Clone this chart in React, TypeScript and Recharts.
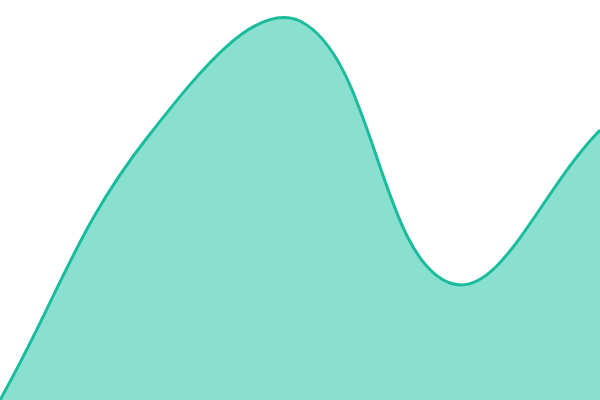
import React from "react";
import { AreaChart, Area, XAxis, YAxis } from "recharts";

const W = 600;
const H = 400;

// five evenly spaced points (y domain 0..100)
const labels = ["1", "2", "3", "4", "5"];
const values = [0, 66.5, 94.75, 29.25, 67.5];

const data = labels.map((name, i) => ({ name, value: values[i] }));

// spline with tension 0.4 (control points along neighbour chord, split by segment length),
// control points kept inside the plot area
const TENSION = 0.4;
const clampX = (v: number) => Math.max(0, Math.min(W, v));
const clampY = (v: number) => Math.max(0, Math.min(H, v));

function tensionCurve(context: any) {
  let line = NaN;
  let pts: number[][] = [];
  return {
    areaStart() {
      line = 0;
    },
    areaEnd() {
      line = NaN;
    },
    lineStart() {
      pts = [];
    },
    point(x: number, y: number) {
      pts.push([+x, +y]);
    },
    lineEnd() {
      const n = pts.length;
      if (n) {
        line ? context.lineTo(pts[0][0], pts[0][1]) : context.moveTo(pts[0][0], pts[0][1]);
        if (n === 2) {
          context.lineTo(pts[1][0], pts[1][1]);
        } else if (n > 2) {
          const cpIn: number[][] = [];
          const cpOut: number[][] = [];
          for (let i = 0; i < n; i++) {
            const cur = pts[i];
            const prev = pts[i - 1] || cur;
            const next = pts[i + 1] || cur;
            const d01 = Math.hypot(cur[0] - prev[0], cur[1] - prev[1]);
            const d12 = Math.hypot(next[0] - cur[0], next[1] - cur[1]);
            let s01 = d01 / (d01 + d12);
            let s12 = d12 / (d01 + d12);
            if (isNaN(s01)) s01 = 0;
            if (isNaN(s12)) s12 = 0;
            const fa = TENSION * s01;
            const fb = TENSION * s12;
            cpIn.push([clampX(cur[0] - fa * (next[0] - prev[0])), clampY(cur[1] - fa * (next[1] - prev[1]))]);
            cpOut.push([clampX(cur[0] + fb * (next[0] - prev[0])), clampY(cur[1] + fb * (next[1] - prev[1]))]);
          }
          for (let i = 0; i < n - 1; i++) {
            context.bezierCurveTo(cpOut[i][0], cpOut[i][1], cpIn[i + 1][0], cpIn[i + 1][1], pts[i + 1][0], pts[i + 1][1]);
          }
        }
      }
      if (line || (line !== 0 && n === 1)) context.closePath();
      line = 1 - line;
    },
  };
}

export default function App() {
  return (
    <div style={{ position: "fixed", top: 0, left: 0, width: W, height: H, background: "#fff" }}>
      <AreaChart width={W} height={H} data={data} margin={{ top: 0, right: 0, bottom: 0, left: 0 }}>
        <XAxis dataKey="name" hide padding={{ left: 0, right: 0 }} />
        <YAxis hide domain={[0, 100]} />
        <Area
          type={tensionCurve as any}
          dataKey="value"
          stroke="#1abc9c"
          strokeWidth={3}
          fill="#8ae0cf"
          fillOpacity={1}
          isAnimationActive={false}
          dot={false}
          activeDot={false}
        />
      </AreaChart>
    </div>
  );
}
